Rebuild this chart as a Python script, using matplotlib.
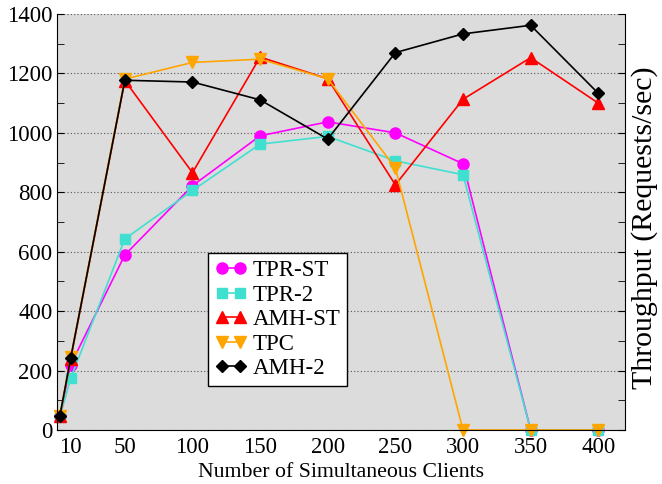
import matplotlib.pyplot as plt
from matplotlib.ticker import MultipleLocator

plt.rcParams['font.family'] = 'Liberation Serif'

clients = [2, 10, 50, 100, 150, 200, 250, 300, 350, 400]
xticks = [10, 50, 100, 150, 200, 250, 300, 350, 400]

tpr_st = [48, 220, 589, 822, 990, 1037, 1000, 896, 0, 0]
tpr_2 = [45, 174, 643, 806, 962, 988, 906, 859, 0, 0]
amh_st = [46, 240, 1176, 866, 1255, 1182, 825, 1113, 1253, 1100]
tpc = [47, 244, 1181, 1237, 1248, 1182, 882, 0, 0, 0]
amh_2 = [48, 243, 1177, 1171, 1111, 979, 1270, 1333, 1362, 1133]

fig = plt.figure(figsize=(6.62, 4.84), dpi=100)
ax = fig.add_axes([0.0864, 0.1116, 0.8582, 0.8595])
ax.set_facecolor('#dcdcdc')

series = [
    (tpr_st, 'TPR-ST', '#ff00ff', 'o', 8),
    (tpr_2, 'TPR-2', '#40e0d0', 's', 7),
    (amh_st, 'AMH-ST', '#ff0000', '^', 8),
    (tpc, 'TPC', '#ffa500', 'v', 8),
    (amh_2, 'AMH-2', '#000000', 'D', 6.5),
]
for vals, name, col, mk, ms in series:
    ax.plot(clients, vals, '-', marker=mk, color=col, markersize=ms,
            linewidth=1.2, label=name, clip_on=False)

ax.set_xlim(0, 420)
ax.set_ylim(0, 1400)
ax.set_xticks(xticks)
ax.yaxis.set_major_locator(MultipleLocator(200))
ax.yaxis.set_minor_locator(MultipleLocator(100))
ax.tick_params(axis='x', length=0, labelsize=16.5, pad=5)
ax.tick_params(axis='y', which='both', direction='in', left=True, right=True,
               labelsize=16.5, length=5)
ax.grid(axis='y', which='major', color='#555555', linestyle=(0, (1, 2)), linewidth=0.8)
ax.spines['top'].set_visible(False)

ax.set_xlabel('Number of Simultaneous Clients', fontsize=15.7)
fig.text(645 / 662, 0.53, 'Throughput (Requests/sec)', rotation=90,
         ha='center', va='center', fontsize=21.5)

leg = ax.legend(loc='lower left', bbox_to_anchor=(0.265, 0.106), borderaxespad=0,
                fontsize=16.5, numpoints=2, fancybox=False, framealpha=1,
                edgecolor='black', handlelength=1.4, handletextpad=0.25,
                labelspacing=0.15, borderpad=0.3)
leg.get_frame().set_linewidth(1.0)

fig.savefig('out.png', dpi=100)
